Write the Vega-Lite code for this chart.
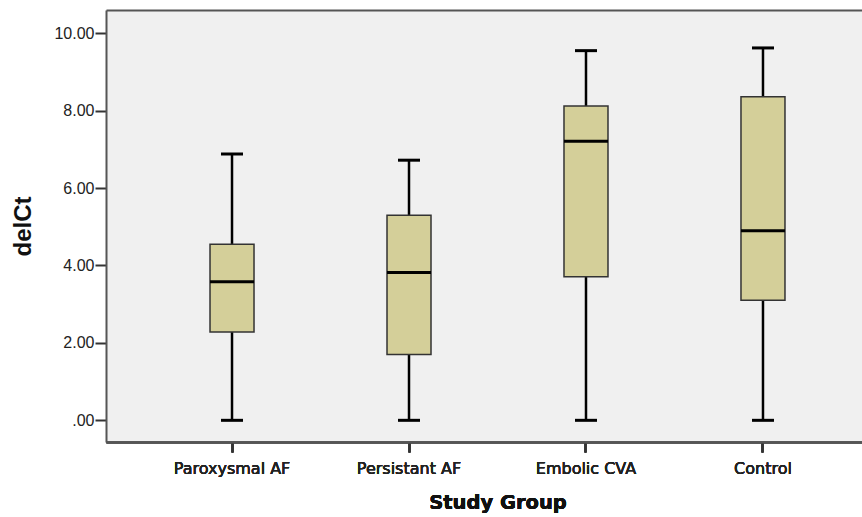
{
  "$schema": "https://vega.github.io/schema/vega-lite/v6.json",
  "width": 756,
  "height": 432,
  "autosize": {"type": "none"},
  "padding": {"left": 106, "top": 10, "right": 0, "bottom": 75},
  "background": "#ffffff",
  "config": {
    "view": {"fill": "#f0f0f0", "stroke": null}
  },
  "data": {
    "values": [
      {"group": "Paroxysmal AF", "min": 0, "q1": 2.28, "median": 3.58, "q3": 4.55, "max": 6.88},
      {"group": "Persistant AF", "min": 0, "q1": 1.70, "median": 3.82, "q3": 5.30, "max": 6.72},
      {"group": "Embolic CVA", "min": 0, "q1": 3.71, "median": 7.21, "q3": 8.12, "max": 9.55},
      {"group": "Control", "min": 0, "q1": 3.10, "median": 4.90, "q3": 8.36, "max": 9.62}
    ]
  },
  "encoding": {
    "x": {
      "field": "group",
      "type": "nominal",
      "sort": ["Paroxysmal AF", "Persistant AF", "Embolic CVA", "Control"],
      "scale": {"type": "band", "range": [0, 783], "paddingInner": 0, "paddingOuter": 0.212},
      "axis": {
        "orient": "bottom",
        "title": "Study Group",
        "titleFont": "DejaVu Sans",
        "titleFontWeight": "bold",
        "titleFontSize": 19.5,
        "titleColor": "#111111",
        "titleX": 391.5,
        "titleY": 51,
        "titleBaseline": "top",
        "titleAlign": "center",
        "labelFont": "DejaVu Sans",
        "labelFontSize": 16,
        "labelColor": "#222222",
        "labelAngle": 0,
        "labelPadding": 8,
        "tickSize": 10,
        "tickWidth": 2,
        "tickColor": "#333333",
        "domainColor": "#555555",
        "domainWidth": 2,
        "grid": false
      }
    }
  },
  "layer": [
    {
      "mark": {"type": "rule", "color": "#000000", "strokeWidth": 2.5},
      "encoding": {
        "y": {
          "field": "min",
          "type": "quantitative",
          "scale": {"domain": [-0.56, 10.6], "nice": false, "zero": false},
          "axis": {
            "values": [0, 2, 4, 6, 8, 10],
            "labelExpr": "datum.value == 0 ? '.00' : format(datum.value, '.2f')",
            "title": "delCt",
            "titleFont": "Liberation Sans",
            "titleFontWeight": "bold",
            "titleFontSize": 24,
            "titleColor": "#111111",
            "titleAngle": 270,
            "titleX": -83,
            "titleBaseline": "middle",
            "labelFont": "Liberation Sans",
            "labelFontSize": 16,
            "labelColor": "#222222",
            "labelPadding": 1,
            "tickSize": 11,
            "tickWidth": 2,
            "tickColor": "#333333",
            "domainColor": "#555555",
            "domainWidth": 2,
            "grid": false
          }
        },
        "y2": {"field": "q1"}
      }
    },
    {
      "mark": {"type": "rule", "color": "#000000", "strokeWidth": 2.5},
      "encoding": {
        "y": {"field": "q3", "type": "quantitative"},
        "y2": {"field": "max"}
      }
    },
    {
      "mark": {"type": "bar", "width": 44, "fill": "#d4cf99", "stroke": "#333333", "strokeWidth": 1.5},
      "encoding": {
        "y": {"field": "q1", "type": "quantitative"},
        "y2": {"field": "q3"}
      }
    },
    {
      "mark": {"type": "tick", "size": 44, "thickness": 3, "color": "#000000", "opacity": 1},
      "encoding": {
        "y": {"field": "median", "type": "quantitative"}
      }
    },
    {
      "mark": {"type": "tick", "size": 22, "thickness": 3, "color": "#000000", "opacity": 1},
      "encoding": {
        "y": {"field": "min", "type": "quantitative"}
      }
    },
    {
      "mark": {"type": "tick", "size": 22, "thickness": 3, "color": "#000000", "opacity": 1},
      "encoding": {
        "x": {
          "field": "group",
          "type": "nominal",
          "sort": ["Paroxysmal AF", "Persistant AF", "Embolic CVA", "Control"],
          "axis": {"orient": "top", "labels": false, "ticks": false, "title": null, "domain": true, "domainColor": "#555555", "domainWidth": 2, "grid": false}
        },
        "y": {"field": "max", "type": "quantitative"}
      }
    }
  ]
}
